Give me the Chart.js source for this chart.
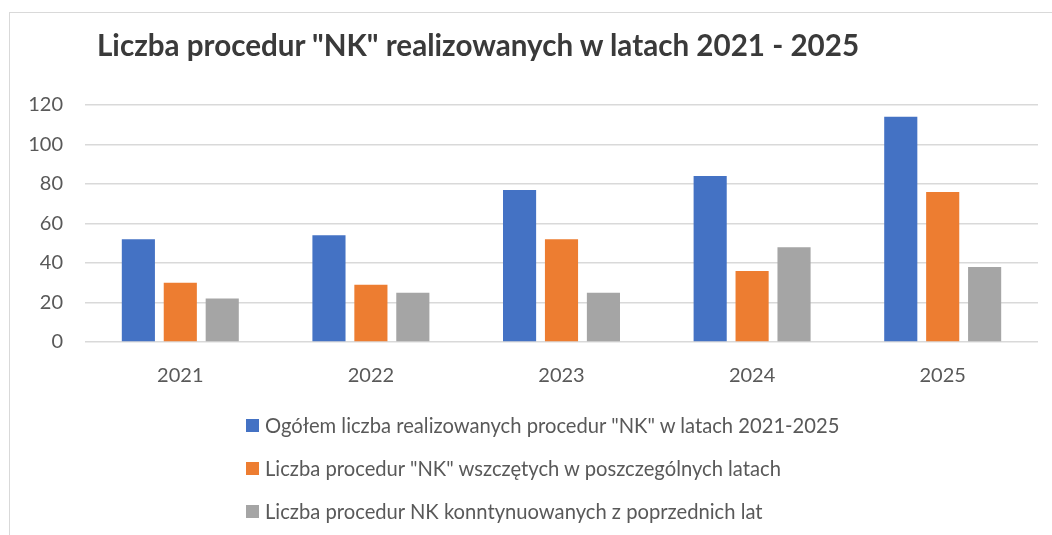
<!DOCTYPE html>
<html>
<head>
<meta charset="utf-8">
<script src="https://cdn.jsdelivr.net/npm/chart.js@4/dist/chart.umd.min.js"></script>
<style>
    html, body { margin: 0; padding: 0; background: #ffffff; }
    body { width: 1052px; height: 535px; position: relative; overflow: hidden; font-family: Lato, sans-serif; }
    #frame { position: absolute; left: 9px; top: 12px; width: 1100px; height: 600px; border: 1px solid #d9d9d9; box-sizing: border-box; }
    #chartBox { position: absolute; left: 0; top: 0; width: 1052px; height: 535px; }
    #title { position: absolute; left: 97px; top: 27px; font-size: 29.6px; font-weight: bold; color: #3a3a3a; white-space: nowrap; }
    #legend { position: absolute; left: 246px; top: 412px; }
    .item { position: relative; height: 43px; font-size: 20.2px; color: #595959; white-space: nowrap; }
    .item span.box { position: absolute; left: 0; top: 7px; width: 13px; height: 13px; }
    .item span.txt { position: absolute; left: 19px; top: 0; line-height: 26px; }
</style>
</head>
<body>
<div id="frame"></div>
<div id="chartBox"><canvas id="nkChart" width="1052" height="535"></canvas></div>
<div id="title">Liczba procedur "NK" realizowanych w latach 2021 - 2025</div>
<div id="legend"></div>
<script>
// Chart data
const years = ['2021', '2022', '2023', '2024', '2025'];
const totalProc = [52, 54, 77, 84, 114];
const startedProc = [30, 29, 52, 36, 76];
const continuedProc = [22, 25, 25, 48, 38];

const seriesLabels = [
    'Ogółem liczba realizowanych procedur "NK" w latach 2021-2025',
    'Liczba procedur "NK" wszczętych w poszczególnych latach',
    'Liczba procedur NK konntynuowanych z poprzednich lat'
];
const seriesColors = ['#4472c4', '#ed7d31', '#a5a5a5'];
const yTicks = [0, 20, 40, 60, 80, 100, 120];

const ctx = document.getElementById('nkChart').getContext('2d');

const datasets = [totalProc, startedProc, continuedProc].map((values, i) => ({
    label: seriesLabels[i],
    data: values,
    backgroundColor: seriesColors[i],
    borderWidth: 0,
    barPercentage: 0.79,
    categoryPercentage: 0.66
}));

const nkChart = new Chart(ctx, {
    type: 'bar',
    data: { labels: years, datasets },
    options: {
        responsive: false,
        animation: false,
        layout: {
            padding: { top: 105, right: 14, bottom: 0, left: 0 }
        },
        plugins: {
            legend: { display: false },
            title: { display: false },
            tooltip: { enabled: false }
        },
        scales: {
            x: {
                grid: { display: false, drawTicks: false },
                border: { display: false },
                ticks: {
                    color: '#595959',
                    font: { family: 'Lato', size: 20 },
                    padding: 22
                },
                afterFit: scale => { scale.height = 193; }
            },
            y: {
                min: 0,
                max: 120,
                afterBuildTicks: scale => { scale.ticks = yTicks.map(v => ({ value: v })); },
                grid: { color: '#d9d9d9', lineWidth: 1.5, drawTicks: false },
                border: { display: false },
                ticks: {
                    color: '#595959',
                    font: { family: 'Lato', size: 20 },
                    padding: 22
                },
                afterFit: scale => { scale.width = 85; }
            }
        }
    }
});

// Legend built from the dataset list
const legendEl = document.getElementById('legend');
nkChart.data.datasets.forEach(ds => {
    const row = document.createElement('div');
    row.className = 'item';
    row.innerHTML = '<span class="box"></span><span class="txt"></span>';
    row.querySelector('.box').style.background = ds.backgroundColor;
    row.querySelector('.txt').textContent = ds.label;
    legendEl.appendChild(row);
});
</script>
</body>
</html>
